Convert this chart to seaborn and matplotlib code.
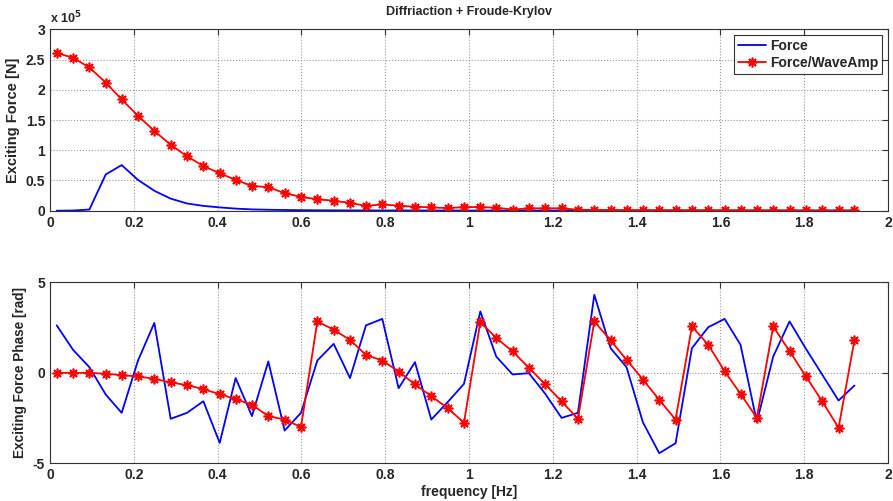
import numpy as np
import seaborn as sns
import matplotlib.pyplot as plt
from matplotlib.ticker import FuncFormatter

# frequency [Hz]
freq = [0.016, 0.055, 0.094, 0.133, 0.171, 0.210, 0.249, 0.288, 0.327, 0.366,
        0.405, 0.443, 0.482, 0.521, 0.560, 0.599, 0.638, 0.677, 0.716, 0.754,
        0.793, 0.832, 0.871, 0.910, 0.949, 0.988, 1.027, 1.065, 1.104, 1.143,
        1.182, 1.221, 1.260, 1.299, 1.338, 1.376, 1.415, 1.454, 1.493, 1.532,
        1.571, 1.610, 1.648, 1.687, 1.726, 1.765, 1.804, 1.843, 1.882, 1.920]

# exciting force amplitude [N]
force = [0.0, 300, 2000, 60000, 75500, 51000, 33000, 20000, 12000, 8000,
         5500, 3500, 2200, 1600, 1200, 900, 700, 600, 500, 450,
         400, 380, 360, 340, 320, 300, 300, 300, 280, 280,
         270, 260, 250, 240, 230, 220, 200, 190, 180, 170,
         160, 150, 140, 130, 120, 110, 100, 90, 80, 70]
force_per_amp = [261000, 253000, 237000, 212000, 184000, 157000, 132000, 109000, 90000, 74000,
                 62000, 51000, 41000, 39000, 29000, 23000, 19000, 16500, 13000, 8000,
                 10500, 8300, 6600, 5500, 4400, 6000, 6000, 5000, 2000, 4000,
                 4000, 4000, 1700, 1200, 1200, 1000, 1000, 900, 900, 900,
                 800, 800, 700, 700, 700, 600, 600, 500, 500, 500]

# exciting force phase [rad]
phase_force = [2.62, 1.27, 0.31, -1.2, -2.21, 0.68, 2.76, -2.54, -2.21, -1.57,
               -3.87, -0.29, -2.39, 0.63, -3.19, -2.21, 0.68, 1.6, -0.29, 2.62,
               2.98, -0.85, 0.59, -2.58, -1.62, -0.61, 3.39, 0.9, -0.09, -0.02,
               -1.16, -2.49, -2.21, 4.31, 1.36, 0.31, -2.73, -4.44, -3.89, 1.36,
               2.52, 2.98, 1.55, -2.73, 0.9, 2.84, 1.33, -0.1, -1.53, -0.7]
phase_per_amp = [0.0, 0.0, 0.0, -0.05, -0.13, -0.2, -0.33, -0.53, -0.68, -0.9,
                 -1.18, -1.45, -1.77, -2.39, -2.58, -3.0, 2.84, 2.38, 1.82, 0.99,
                 0.68, 0.07, -0.64, -1.29, -1.95, -2.76, 2.80, 1.93, 1.18, 0.28,
                 -0.64, -1.58, -2.54, 2.84, 1.79, 0.72, -0.37, -1.49, -2.58, 2.56,
                 1.55, 0.09, -1.16, -2.49, 2.56, 1.2, -0.2, -1.57, -3.04, 1.82]

sns.set_style("white")
plt.rcParams['font.family'] = ['Liberation Sans', 'DejaVu Sans']
plt.rcParams['font.weight'] = 'bold'
plt.rcParams['axes.labelweight'] = 'bold'
plt.rcParams['axes.unicode_minus'] = False

fig = plt.figure(figsize=(8.93, 5.01), dpi=100)
ax1 = fig.add_axes([0.056, 0.5794, 0.9384, 0.362])
ax2 = fig.add_axes([0.056, 0.0752, 0.9384, 0.3613])

star = (8, 2, 0)
red_kw = dict(color='red', lw=1.3, marker=star, markersize=7,
              markeredgecolor='red', markeredgewidth=1.2)

sns.lineplot(x=freq, y=force, ax=ax1, color='blue', lw=1.3, label='Force')
sns.lineplot(x=freq, y=force_per_amp, ax=ax1, label='Force/WaveAmp', **red_kw)

sns.lineplot(x=freq, y=phase_force, ax=ax2, color='blue', lw=1.3)
sns.lineplot(x=freq, y=phase_per_amp, ax=ax2, **red_kw)

for ax in (ax1, ax2):
    ax.set_xlim(0, 2)
    ax.set_xticks(np.arange(0, 2.01, 0.2))
    ax.xaxis.set_major_formatter(FuncFormatter(lambda v, p: '%g' % round(v, 2)))
    ax.grid(True, ls=':', color='#9a9a9a', lw=0.8)
    ax.tick_params(direction='in', top=True, right=True, length=4,
                   labelsize=10, width=0.8, color='#333333')
    for s in ax.spines.values():
        s.set_color('#333333')
        s.set_linewidth(0.8)

ax1.set_ylim(0, 3e5)
ax1.set_yticks(np.arange(0, 3.01e5, 0.5e5))
ax1.yaxis.set_major_formatter(FuncFormatter(lambda v, p: '%g' % (v / 1e5)))
ax1.text(0.0, 1.015, r'x 10$^5$', transform=ax1.transAxes, fontsize=9,
         ha='left', va='bottom')
ax1.set_title('Diffriaction + Froude-Krylov', fontsize=9, fontweight='bold', pad=10)
ax1.set_ylabel('Exciting Force [N]', fontsize=10.5)
leg = ax1.legend(loc='upper right', fontsize=10, frameon=True, fancybox=False,
                 borderaxespad=0.4, handlelength=2.0, borderpad=0.3,
                 labelspacing=0.2, handletextpad=0.3)
leg.get_frame().set_edgecolor('black')
leg.get_frame().set_linewidth(0.8)

ax2.set_ylim(-5, 5)
ax2.set_yticks([-5, 0, 5])
ax2.set_ylabel('Exciting Force Phase [rad]', fontsize=9.8)
ax2.set_xlabel('frequency [Hz]', fontsize=10, labelpad=2)

fig.savefig('out.png', dpi=100)
